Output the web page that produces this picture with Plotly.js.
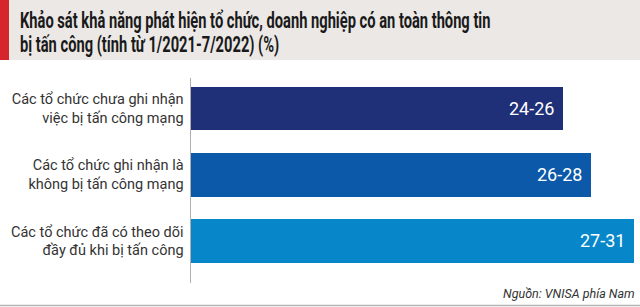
<!DOCTYPE html>
<html>
<head>
<meta charset="utf-8">
<script src="https://cdn.plot.ly/plotly-3.0.1.min.js"></script>
<style>
  html, body { margin: 0; padding: 0; background: #fff; }
  #chart { width: 640px; height: 307px; }
</style>
</head>
<body>
<div id="chart"></div>
<script>
// Survey: ability of organisations to detect information-security attacks (%)
const categories = [
  "Các tổ chức chưa ghi nhận<br>việc bị tấn công mạng",
  "Các tổ chức ghi nhận là<br>không bị tấn công mạng",
  "Các tổ chức đã có theo dõi<br>đầy đủ khi bị tấn công"
];
const lowValues = [24, 26, 27];
const highValues = [26, 28, 31];
const barColors = ["#1f2f78", "#0b59a8", "#0787c9"];

const titleLines = [
  "Khảo sát khả năng phát hiện tổ chức, doanh nghiệp có an toàn thông tin",
  "bị tấn công (tính từ 1/2021-7/2022) (%)"
];
const sourceText = "Nguồn: VNISA phía Nam";

const FONT = "Roboto, 'Open Sans', sans-serif";

// Plot area geometry (pixels) used to convert to paper coordinates for decorations
const W = 640, H = 307;
const M = { l: 191, r: 0, t: 78, b: 24 };
const pw = W - M.l - M.r, ph = H - M.t - M.b;
const px = x => (x - M.l) / pw;
const py = y => (H - M.b - y) / ph;

const rangeLabels = lowValues.map((lo, i) => lo + "-" + highValues[i]);

const trace = {
  type: "bar",
  orientation: "h",
  x: highValues,
  y: categories,
  marker: { color: barColors, line: { width: 0 } },
  width: 0.657,
  hoverinfo: "skip"
};

// Value labels at the inside end of each bar
const valueLabels = highValues.map((v, i) => ({
  x: v, y: categories[i], xref: "x", yref: "y",
  text: rangeLabels[i], showarrow: false,
  xanchor: "right", yanchor: "middle", xshift: -7,
  font: { family: FONT, size: 18, color: "#ffffff" }
}));

// Heading, one annotation per line so the line spacing stays tight
const headingCentres = [21, 44];
const heading = titleLines.map((t, i) => ({
  xref: "paper", yref: "paper", x: px(18), y: py(headingCentres[i]),
  xanchor: "left", yanchor: "middle", showarrow: false, align: "left",
  text: "<b>" + t + "</b>",
  font: { family: FONT, size: 22, color: "#1a1a1a" }
}));

const source = {
  xref: "paper", yref: "paper", x: px(637), y: py(293),
  xanchor: "right", yanchor: "middle", showarrow: false,
  text: "<i>" + sourceText + "</i>",
  font: { family: FONT, size: 12.5, color: "#333333" }
};

const layout = {
  width: W, height: H,
  margin: M,
  paper_bgcolor: "#ffffff",
  plot_bgcolor: "#ffffff",
  showlegend: false,
  bargap: 0,
  xaxis: {
    range: [0, 31.4],
    showgrid: false, zeroline: false, showline: false,
    showticklabels: false, ticks: "", fixedrange: true
  },
  yaxis: {
    type: "category",
    range: [2.634, -0.46],
    autorange: false,
    showgrid: false, zeroline: false,
    showline: true, linecolor: "#b0b0b0", linewidth: 1.5,
    ticks: "", ticklabelstandoff: 3,
    tickfont: { family: FONT, size: 14.5, color: "#333333" },
    fixedrange: true
  },
  shapes: [
    // header band
    { type: "rect", xref: "paper", yref: "paper", layer: "below",
      x0: px(0), x1: px(640), y0: py(60), y1: py(0),
      fillcolor: "#ebe8e6", line: { width: 0 } },
    // red accent
    { type: "rect", xref: "paper", yref: "paper", layer: "below",
      x0: px(0), x1: px(9), y0: py(60), y1: py(0),
      fillcolor: "#d7262b", line: { width: 0 } },
    // bottom rule
    { type: "line", xref: "paper", yref: "paper",
      x0: px(0), x1: px(640), y0: py(305.5), y1: py(305.5),
      line: { color: "#b5b5b5", width: 1.5 } }
  ],
  annotations: valueLabels.concat([source], heading)
};

// The heading face is a condensed bold; narrow the bold Roboto lines to the
// same measure (first line spans ~471px), anchored at their left edge.
function condenseHeading() {
  const first = valueLabels.length + 1;
  const texts = [];
  for (let i = 0; i < heading.length; i++) {
    const el = document.querySelector('#chart g.annotation[data-index="' + (first + i) + '"] text.annotation-text');
    if (el) texts.push(el);
  }
  if (!texts.length) return;
  const s = 471 / texts[0].getBBox().width;
  texts.forEach(el => {
    const bx = el.getBBox().x;
    el.setAttribute("transform", "translate(" + bx + ",0) scale(" + s + ",1) translate(" + (-bx) + ",0)");
  });
}

Plotly.newPlot("chart", [trace], layout, { displayModeBar: false, staticPlot: true })
  .then(condenseHeading);
</script>
</body>
</html>
